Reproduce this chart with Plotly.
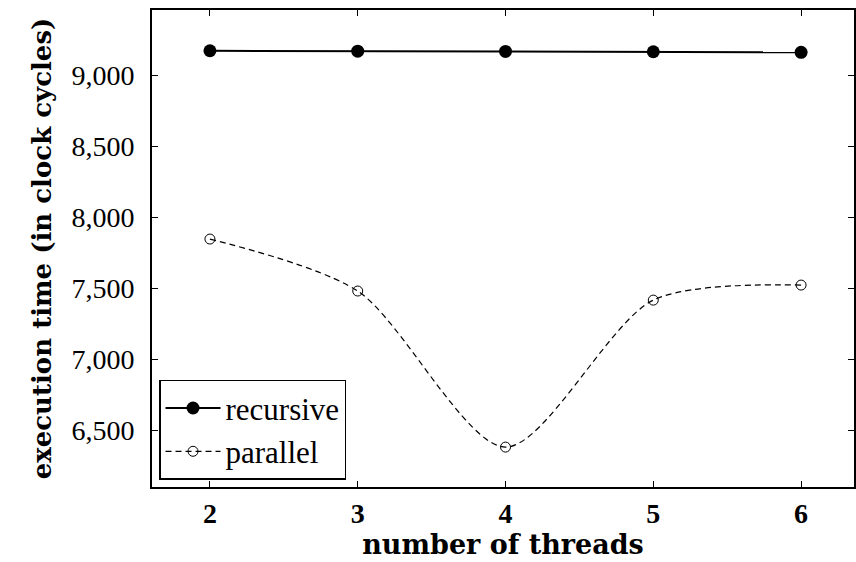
import plotly.graph_objects as go

threads = [2, 3, 4, 5, 6]
recursive = [9171, 9168, 9166, 9164, 9160]
parallel = [7845, 7479, 6380, 7415, 7521]
y_ticks = [6500, 7000, 7500, 8000, 8500, 9000]
y_tick_labels = ["6,500", "7,000", "7,500", "8,000", "8,500", "9,000"]

FONT = "Liberation Serif, Times New Roman, serif"
TITLE_FONT = "DejaVu Serif, serif"

fig = go.Figure()
fig.add_trace(go.Scatter(
    x=threads, y=recursive, name="recursive", mode="lines+markers",
    line=dict(color="black", width=2),
    marker=dict(symbol="circle", size=13, color="black"),
))
fig.add_trace(go.Scatter(
    x=threads, y=parallel, name="parallel", mode="lines+markers",
    line=dict(color="black", width=1.2, dash="6px,4px", shape="spline", smoothing=0.8),
    marker=dict(symbol="circle-open", size=10, color="black", line=dict(width=1)),
))

fig.update_layout(
    width=856, height=562,
    margin=dict(l=152, r=0, t=10, b=75),
    plot_bgcolor="white", paper_bgcolor="white",
    font=dict(family=FONT, color="black", size=27),
    showlegend=True,
    legend=dict(
        x=0.01, y=0.015, xanchor="left", yanchor="bottom",
        bgcolor="white", bordercolor="black", borderwidth=1.5,
        font=dict(family=FONT, size=31, color="black"),
        tracegroupgap=0, itemwidth=55, entrywidth=195, entrywidthmode="pixels",
    ),
    xaxis=dict(
        range=[1.608, 6.358], tickvals=threads, ticktext=[str(t) for t in threads],
        showgrid=False, zeroline=False,
        showline=True, linecolor="black", linewidth=2, mirror="ticks",
        ticks="inside", ticklen=6, tickcolor="black",
        tickfont=dict(family=FONT, size=28, weight="bold"),
        title=dict(text="number of threads", font=dict(family=TITLE_FONT, size=27, weight="bold"), standoff=6),
    ),
    yaxis=dict(
        range=[6099, 9458], tickvals=y_ticks, ticktext=y_tick_labels,
        showgrid=False, zeroline=False,
        showline=True, linecolor="black", linewidth=2, mirror="ticks",
        ticks="inside", ticklen=6, tickcolor="black",
        tickfont=dict(family=FONT, size=28),
        ticklabelstandoff=10,
        title=dict(text="execution time (in clock cycles)", font=dict(family=TITLE_FONT, size=26, weight="bold"), standoff=12),
    ),
)

fig.write_html("out.html")
